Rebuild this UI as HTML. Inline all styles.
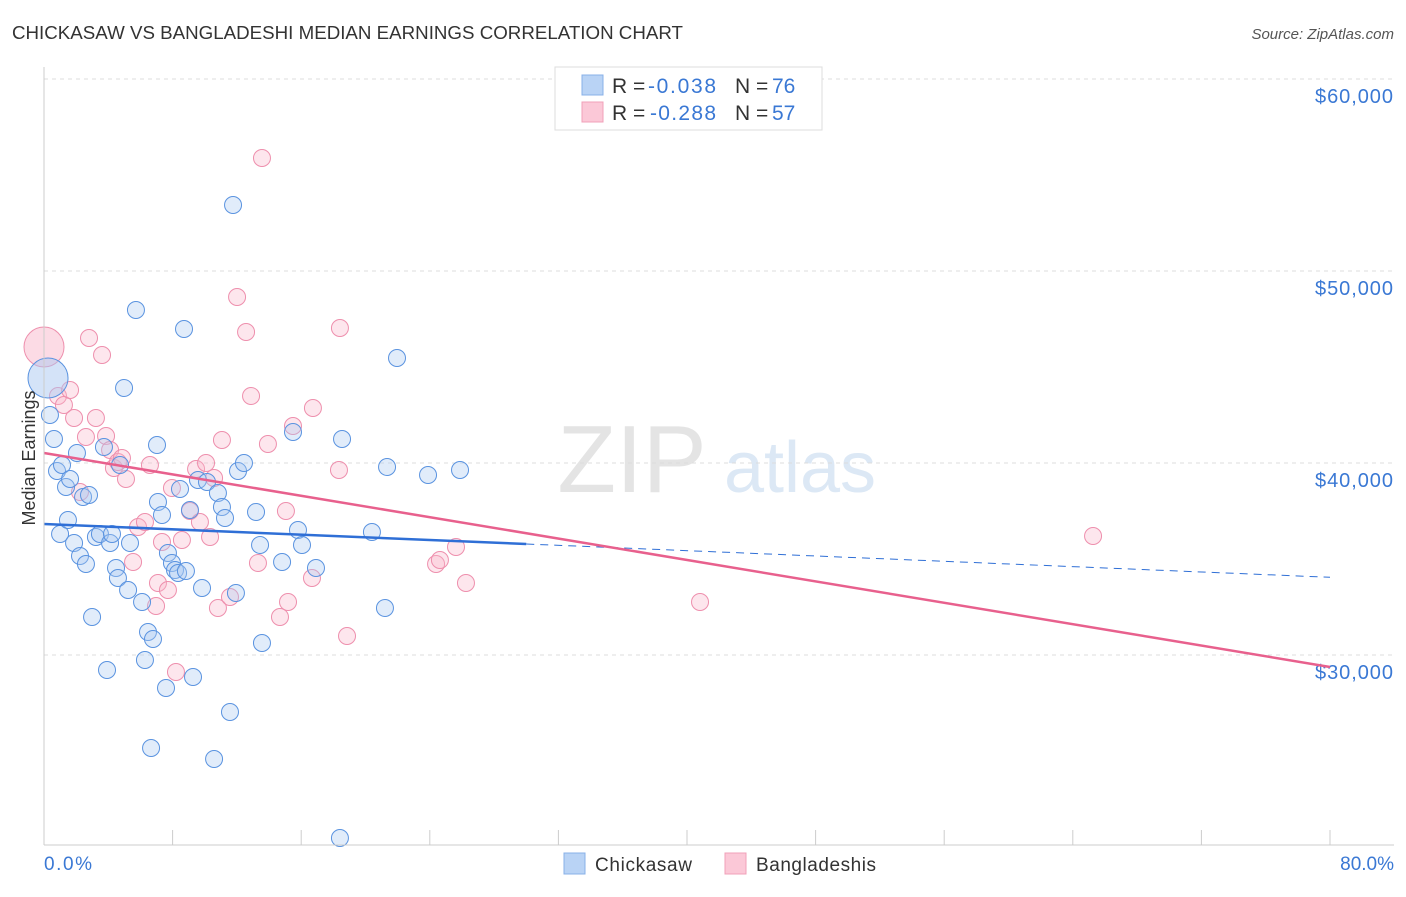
<!DOCTYPE html>
<html><head><meta charset="utf-8"><style>
body{margin:0;background:#fff;font-family:"Liberation Sans",sans-serif;}
svg text{font-family:"Liberation Sans",sans-serif;}
</style></head><body>
<svg id="c" width="1406" height="892" xmlns="http://www.w3.org/2000/svg">
<text x="12" y="39" font-size="18" fill="#333" textLength="671" lengthAdjust="spacingAndGlyphs">CHICKASAW VS BANGLADESHI MEDIAN EARNINGS CORRELATION CHART</text>
<text x="1394" y="39" font-size="15" fill="#555" text-anchor="end" font-style="italic">Source: ZipAtlas.com</text>
<text x="632" y="492" font-size="96" fill="#e4e4e4" font-family="Liberation Serif" text-anchor="middle">ZIP</text>
<text x="800" y="492" font-size="72" fill="#dce8f5" text-anchor="middle">atlas</text>
<g id="grid"></g><g id="pts"></g><g id="lines"></g>
<line x1="44" y1="67" x2="44" y2="845" stroke="#ccc"/>
<line x1="44" y1="845" x2="1394" y2="845" stroke="#ccc"/>
<text x="44" y="870" font-size="19" fill="#3a78d4" textLength="48">0.0%</text>
<text x="1394" y="870" font-size="19" fill="#3a78d4" text-anchor="end">80.0%</text>
<text x="35" y="458" font-size="18" fill="#333" text-anchor="middle" transform="rotate(-90 35 458)">Median Earnings</text>
<g>
<rect x="555" y="67" width="267" height="63" fill="#fff" stroke="#ddd"/>
<rect x="582" y="75" width="21" height="20" fill="#b9d3f5" stroke="#88b0e8"/>
<rect x="582" y="102" width="21" height="20" fill="#fbc8d7" stroke="#f0a0b8"/>
<text x="612" y="93" font-size="21" fill="#333">R =</text>
<text x="648" y="93" font-size="21" fill="#3a78d4" textLength="68">-0.038</text>
<text x="735" y="93" font-size="21" fill="#333">N =</text>
<text x="772" y="93" font-size="21" fill="#3a78d4">76</text>
<text x="612" y="120" font-size="21" fill="#333">R =</text>
<text x="650" y="120" font-size="21" fill="#3a78d4" textLength="66">-0.288</text>
<text x="735" y="120" font-size="21" fill="#333">N =</text>
<text x="772" y="120" font-size="21" fill="#3a78d4">57</text>
</g>
<g>
<rect x="564" y="853" width="21" height="21" fill="#b9d3f5" stroke="#88b0e8"/>
<text x="595" y="871" font-size="19" fill="#333" textLength="97">Chickasaw</text>
<rect x="725" y="853" width="21" height="21" fill="#fbc8d7" stroke="#f0a0b8"/>
<text x="756" y="871" font-size="19" fill="#333" textLength="120">Bangladeshis</text>
</g>
</svg>
<script>
const yTicks=[30000,40000,50000,60000];
const yTickLabels=["$30,000","$40,000","$50,000","$60,000"];
const blueX=[0.25,0.37,0.62,0.81,1.0,1.12,1.37,1.49,1.62,1.87,2.05,2.24,2.43,2.61,2.8,2.99,3.23,3.48,3.73,3.92,4.11,4.23,4.48,4.6,4.73,4.98,5.23,5.35,5.72,6.1,6.28,6.47,6.66,6.78,7.03,7.09,7.34,7.59,7.71,7.96,8.15,8.34,8.46,8.71,8.83,9.08,9.27,9.58,9.83,10.14,10.58,10.82,11.07,11.26,11.57,11.76,11.94,12.07,12.44,13.19,13.44,13.56,14.81,15.49,15.8,16.05,16.92,18.41,18.54,20.4,21.21,21.34,21.96,23.89,25.88];
const blueY=[44427,42500,41250,39583,36302,39896,38750,37031,39167,35833,40521,35156,38229,34740,38333,31979,36146,36302,40833,29219,35833,36302,34531,34010,39896,43906,33385,35833,47969,32760,29740,31198,25156,30833,40938,37969,37292,28281,35313,34792,34427,34271,38646,46979,34375,37552,28854,39115,33490,39010,24583,38438,37708,37135,27031,53438,33229,39583,40000,37448,35729,30625,34844,41615,36510,35729,34531,20469,41250,36406,32448,39792,45469,39375,39635];
const pinkX=[0,0.87,1.24,1.62,1.87,2.24,2.61,2.8,3.23,3.61,3.86,4.11,4.35,4.6,4.85,5.1,5.54,5.85,6.28,6.59,6.97,7.09,7.34,7.71,7.96,8.21,8.58,9.08,9.46,9.7,10.08,10.33,10.58,10.82,11.07,11.57,12.01,12.57,12.88,13.31,13.56,13.93,14.68,15.05,15.18,15.49,16.67,16.73,18.35,18.41,18.85,24.39,24.63,25.63,26.25,40.81,65.26];
const pinkY=[46042,43490,43021,43802,42344,38490,41354,46510,42344,45625,41406,40677,39740,40052,40260,39167,34844,36667,36927,39896,32552,33750,35885,33385,38698,29115,35990,37500,39688,36927,40000,36146,39219,32448,41198,33021,48646,46823,43490,34792,55885,40990,31979,37500,32760,41927,34010,42865,39635,47031,30990,34740,34948,35625,33750,32760,36198];
const trendB=[36823,-34.7], trendP=[40521,-139.3];
const X0=44,X1=1330,Y60=79,Y30=655;
const xs=v=>X0+(v/80)*(X1-X0);
const ys=v=>Y30-(v-30000)/10000*((Y30-Y60)/3);
const NS="http://www.w3.org/2000/svg";
function mk(t,a,p){const e=document.createElementNS(NS,t);for(const k in a)e.setAttribute(k,a[k]);p.appendChild(e);return e;}
const grid=document.getElementById('grid');
yTicks.forEach((t,i)=>{
 const l=mk('line',{x1:44,x2:1394,y1:ys(t),y2:ys(t),stroke:'#ddd','stroke-dasharray':'4,4'},grid);
 
 
 const tx=mk('text',{x:1393,y:ys(t)+24,'font-size':20,fill:'#3a78d4','text-anchor':'end',textLength:78},grid);
 tx.textContent=yTickLabels[i];
 
 
});
for(let i=1;i<=10;i++){
 const l=mk('line',{x1:xs(i*8),x2:xs(i*8),y1:830,y2:845,stroke:'#ccc'},grid);
 
 
}
const pts=document.getElementById('pts');
function draw(X,Y,fill,stroke,name){
 X.forEach((x,i)=>{
  const big=i===0;
  const c=mk('circle',{cx:xs(x),cy:ys(Y[i]),r:big?20:8.5,fill:fill,'fill-opacity':big?0.5:0.35,stroke:stroke,'stroke-width':1},pts);
  
  
 });
}
draw(pinkX,pinkY,'#f9b8cc','#ee8fad','bangladeshi-point');
draw(blueX,blueY,'#a9c8f2','#5a93e0','chickasaw-point');
const ln=document.getElementById('lines');
const f=(t,x)=>t[0]+t[1]*x;
let a=mk('line',{x1:xs(0),y1:ys(f(trendB,0)),x2:xs(30),y2:ys(f(trendB,30)),stroke:'#2f6fd6','stroke-width':2.5},ln);


a=mk('line',{x1:xs(30),y1:ys(f(trendB,30)),x2:xs(80),y2:ys(f(trendB,80)),stroke:'#2f6fd6','stroke-width':1,'stroke-dasharray':'8,6'},ln);


a=mk('line',{x1:xs(0),y1:ys(f(trendP,0)),x2:xs(80),y2:ys(f(trendP,80)),stroke:'#e8608d','stroke-width':2.5},ln);


</script>
</body></html>
